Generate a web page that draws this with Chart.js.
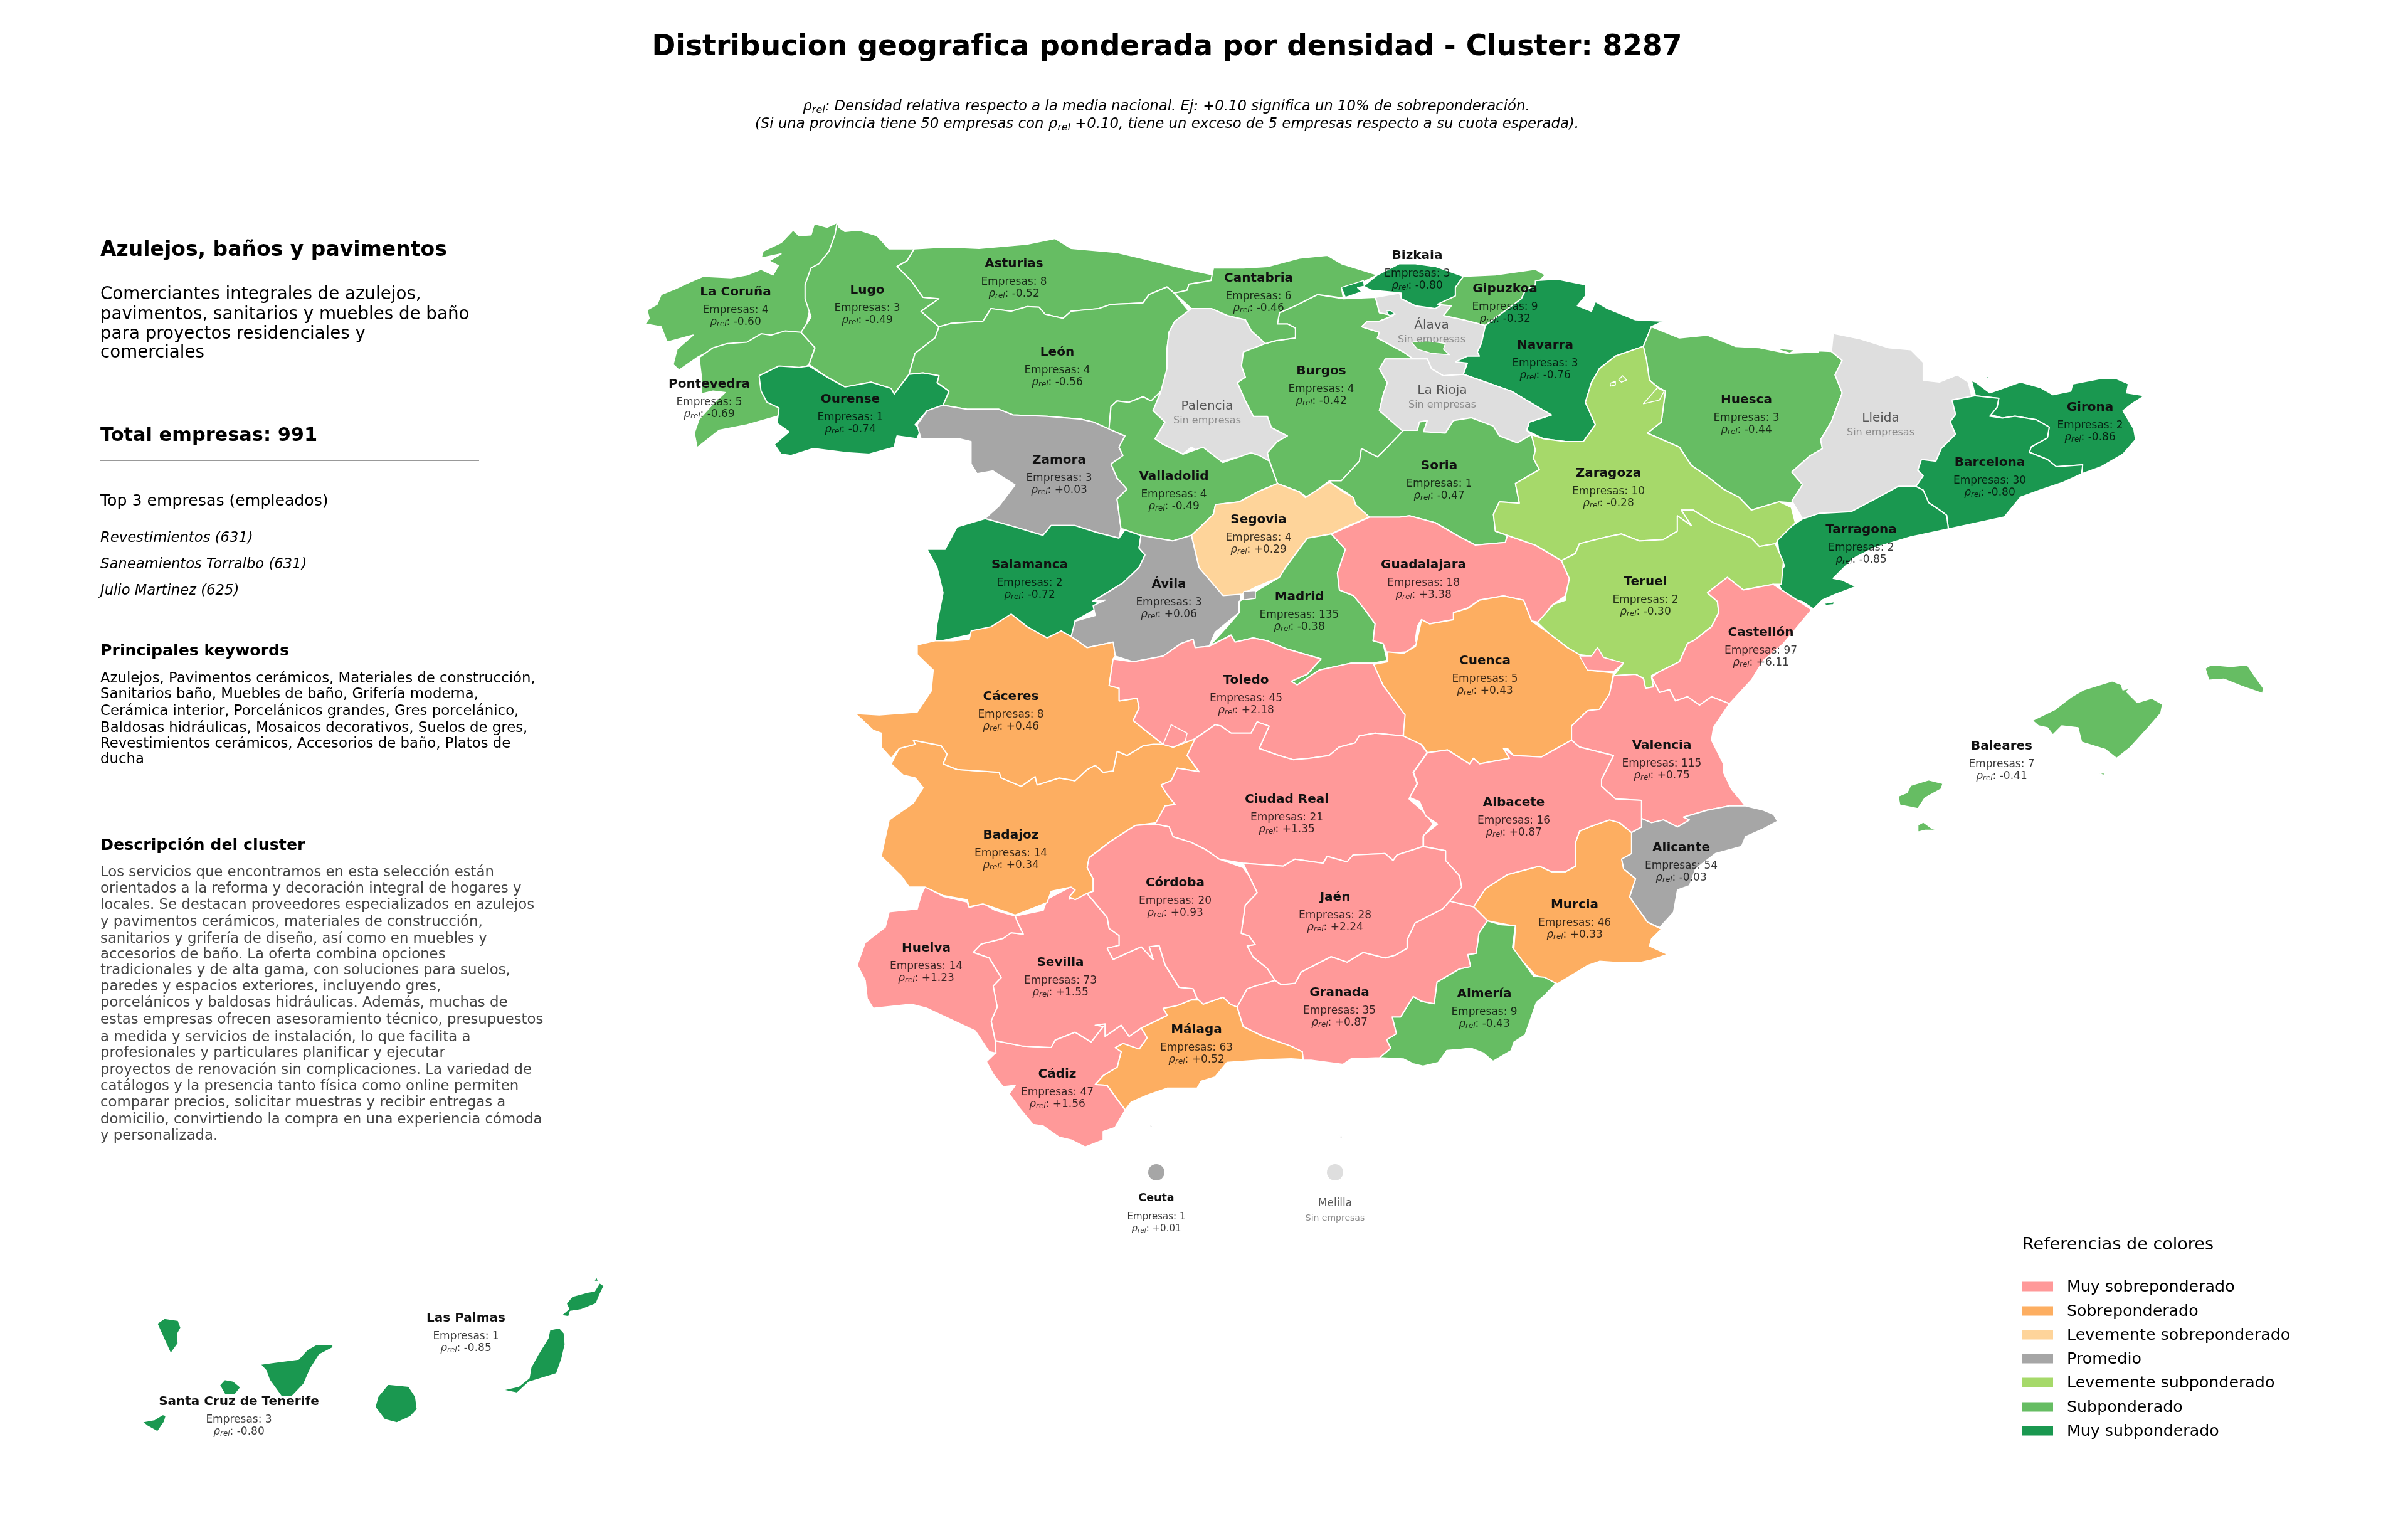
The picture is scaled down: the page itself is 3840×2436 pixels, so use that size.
<!DOCTYPE html>
<html lang="es">
<head>
<meta charset="utf-8">
<title>Distribucion geografica ponderada por densidad</title>
<script src="https://cdn.jsdelivr.net/npm/chart.js@4"></script>
<style>
html, body { margin: 0; padding: 0; background: #fff; }
body { width: 3840px; height: 2436px; position: relative; overflow: hidden; font-family: "DejaVu Sans", sans-serif; color: #000; }
canvas { position: absolute; left: 0; top: 0; }
#labels { position: absolute; left: 0; top: 0; width: 3840px; height: 2436px; }
#labels div { position: absolute; white-space: nowrap; line-height: 1; }
sub { font-size: 70%; line-height: 0; vertical-align: -0.25em; }
</style>
</head>
<body>
<canvas id="map" width="3840" height="2436"></canvas>
<div id="labels"></div>
<script>
function fromCrop(ox, oy, kx, ky) {
    return flat => {
        const pts = [];
        for (let i = 0; i < flat.length; i += 2) {
            pts.push({ x: ox + flat[i] / kx, y: oy + flat[i + 1] / ky });
        }
        return pts;
    };
}
const z1 = fromCrop(1000, 320, 1.568, 2.24);
const z2 = fromCrop(1900, 320, 1.568, 2.24);
const z3 = fromCrop(2800, 500, 1.742, 1.742);
const z4 = fromCrop(1300, 950, 1.568, 2.24);
const z5 = fromCrop(2200, 950, 1.568, 2.24);
const z6 = fromCrop(1300, 1400, 1.568, 2.24);
const z7 = fromCrop(2200, 1250, 2.24, 2.613);
const z8 = fromCrop(180, 2000, 1.823, 3);

const coruna = z1([525,78, 500,95, 468,82, 460,122, 430,125, 415,105, 385,150, 340,180, 335,205, 385,190, 355,215, 378,232, 365,265, 335,245, 300,265, 260,275, 190,270, 150,295, 120,315, 85,335, 75,370, 50,390, 55,420, 45,440, 85,450, 100,505, 165,480, 125,530, 115,585, 130,605, 175,560, 215,530, 300,530, 440,500, 470,300, 530,100]);
const pontevedra = z1([215,525, 250,510, 300,505, 335,475, 360,480, 395,465, 435,470, 470,525, 455,585, 400,640, 390,760, 375,770, 300,800, 230,820, 175,882, 168,830, 180,780, 215,725, 245,685, 215,680, 185,690, 185,620, 180,560]);
const lugo = z1([525,78, 520,120, 505,180, 480,225, 460,240, 445,300, 445,350, 460,415, 435,470, 470,525, 455,585, 500,630, 545,665, 610,648, 660,670, 668,690, 705,620, 720,545, 770,490, 780,450, 735,395, 780,350, 740,345, 710,285, 675,235, 700,215, 718,172, 655,172, 625,125, 580,105, 545,110, 530,95]);
const asturias = z1([718,172, 800,165, 880,170, 1000,155, 1070,135, 1110,170, 1225,185, 1300,210, 1400,245, 1465,265, 1460,285, 1440,290, 1405,298, 1400,320, 1368,330, 1350,308, 1305,335, 1290,365, 1210,370, 1180,385, 1110,395, 1090,420, 1045,405, 1030,380, 1000,378, 960,395, 910,385, 890,430, 810,438, 780,450, 735,395, 780,350, 740,345, 710,285, 675,235, 700,215]);
const leon = z1([780,450, 810,438, 890,430, 910,385, 960,395, 1000,378, 1030,380, 1045,405, 1090,420, 1110,395, 1180,385, 1210,370, 1290,365, 1305,335, 1350,308, 1368,330, 1405,395, 1370,430, 1355,470, 1350,530, 1350,600, 1340,680, 1310,715, 1290,700, 1255,720, 1225,715, 1210,735, 1205,815, 1165,790, 1135,780, 1050,770, 965,765, 930,745, 850,745, 790,730, 805,680, 775,650, 780,625, 740,615, 705,620, 720,545, 770,490]);
const ourense = z1([330,625, 380,590, 430,595, 455,590, 500,630, 545,665, 610,648, 660,670, 668,690, 705,620, 740,615, 780,625, 775,650, 805,680, 790,730, 750,750, 720,800, 735,815, 725,850, 675,840, 668,880, 605,905, 550,900, 465,885, 410,910, 385,905, 368,870, 405,825, 375,795, 380,740, 350,720, 335,680]);
const zamora = z1([790,730, 850,745, 930,745, 965,765, 1050,770, 1135,780, 1165,790, 1205,815, 1245,840, 1230,880, 1240,910, 1210,940, 1225,990, 1250,1030, 1225,1065, 1235,1170, 1230,1205, 1175,1185, 1120,1160, 1060,1160, 1040,1195, 970,1165, 895,1135, 930,1090, 970,1015, 915,965, 875,975, 860,940, 860,860, 830,850, 735,850, 725,800, 750,750]);
const salamanca = [...z1([895,1135, 970,1165, 1040,1195, 1060,1160, 1120,1160, 1175,1185, 1230,1205, 1245,1175, 1285,1195, 1280,1240, 1295,1265, 1280,1310, 1240,1365, 1165,1430, 1195,1440, 1120,1500]), ...z4([650,100, 640,145, 615,150, 580,160, 530,130, 480,110, 300,165]), ...z1([775,1510, 790,1400, 775,1310, 750,1245, 795,1245, 825,1165])];
const palencia = [...z2([0,385, 50,385, 90,410, 135,425, 150,465, 185,510, 130,540, 125,590, 135,630, 115,650, 135,715, 155,770, 190,770, 200,810, 240,840, 215,860, 190,900, 195,930, 170,910, 100,920, 70,935, 30,905, 0,880]), ...z1([1390,905, 1340,870, 1320,850, 1345,790, 1315,750, 1335,680, 1350,600, 1350,530, 1355,470, 1370,430])];
const burgos = z2([130,540, 185,510, 210,500, 260,490, 260,455, 240,440, 215,440, 220,400, 260,375, 315,335, 380,350, 460,345, 470,400, 505,410, 470,430, 440,430, 425,450, 470,470, 465,490, 530,540, 555,565, 485,565, 470,600, 490,650, 480,690, 470,750, 530,820, 490,880, 465,915, 425,885, 420,930, 375,1000, 345,1000, 290,1060, 270,1040, 215,1010, 195,930, 190,900, 215,860, 240,840, 200,810, 190,770, 155,770, 135,715, 115,650, 135,630, 125,590]);
const cantabria = [...z2([55,240, 130,240, 190,235, 270,205, 340,195, 375,225, 465,265, 430,290, 375,310, 380,348, 315,335, 260,375, 220,400, 215,440, 240,440, 260,455, 260,490, 210,500, 185,510, 150,465, 135,425, 90,410, 50,385, 0,385]), ...z1([1368,330, 1400,320, 1405,298, 1440,290, 1460,285])];
const alava = z2([460,345, 520,330, 525,350, 560,375, 610,385, 615,370, 650,375, 630,410, 680,425, 735,445, 725,510, 715,540, 720,555, 690,570, 680,620, 630,625, 600,600, 590,565, 555,565, 530,540, 465,490, 470,470, 425,450, 440,430, 470,430, 505,410, 470,400]);
const bizkaia = z2([465,265, 520,225, 560,225, 610,235, 680,270, 660,310, 660,340, 610,385, 560,375, 525,350, 525,330, 490,325, 450,320, 430,305]);
const gipuzkoa = z2([680,270, 760,265, 860,245, 885,265, 860,300, 835,320, 825,350, 735,445, 680,425, 630,410, 650,375, 615,370, 660,340, 660,310]);
const navarra = z2([860,285, 915,280, 985,300, 985,340, 965,375, 1000,395, 1010,360, 1040,385, 1110,425, 1180,430, 1150,450, 1130,520, 1060,555, 1020,600, 1000,650, 985,720, 1010,800, 980,860, 935,860, 880,850, 838,820, 845,790, 900,765, 870,740, 800,680, 760,660, 680,620, 690,580, 660,575, 690,555, 720,555, 715,540, 725,510, 735,445, 825,350, 835,320, 860,300]);
const rioja = z2([485,565, 555,565, 590,565, 600,600, 630,625, 680,620, 760,660, 800,680, 870,740, 900,765, 845,790, 838,820, 850,835, 815,865, 770,840, 755,805, 700,775, 655,785, 635,830, 580,825, 590,785, 570,790, 565,820, 530,825, 470,750, 480,690, 490,650, 470,600]);
const soria = z2([345,1000, 375,1000, 420,930, 425,885, 465,915, 490,880, 530,820, 565,820, 570,790, 590,785, 580,825, 635,830, 655,785, 700,775, 755,805, 770,840, 815,865, 850,835, 860,890, 855,920, 870,960, 810,1010, 820,1080, 770,1075, 755,1120, 760,1180, 790,1195, 785,1220, 710,1230, 670,1200, 610,1150, 545,1125, 520,1130, 445,1130, 410,1085, 405,1060, 385,1040, 350,1010]);
const valladolid = [...z1([1205,815, 1210,735, 1225,715, 1255,720, 1290,700, 1310,715, 1335,680, 1315,750, 1345,790, 1320,850, 1340,870, 1390,905, 1440,880, 1490,935, 1560,900]), ...z2([170,910, 195,930, 215,1010, 165,1040, 120,1075, 60,1085, 55,1120, 0,1195]), ...z1([1365,1215, 1285,1195, 1245,1175, 1235,1170, 1225,1065, 1250,1030, 1225,990, 1210,940, 1240,910, 1230,880, 1245,840])];
const segovia = z2([215,1010, 270,1040, 285,1060, 345,1005, 380,1040, 405,1060, 410,1085, 445,1130, 385,1165, 350,1190, 290,1205, 235,1310, 220,1345, 160,1380, 120,1410, 80,1410, 45,1370, 19,1310, 0,1195, 55,1120, 60,1085, 120,1075, 165,1040]);
const avila = [...z1([1285,1195, 1365,1215, 1411,1195, 1430,1310, 1490,1410, 1535,1405, 1530,1470]), ...z4([1060,60, 1000,130, 985,180, 950,185, 945,155, 915,170, 870,215, 795,235, 750,215, 745,165, 680,185, 640,145, 650,90, 700,70, 695,35, 725,15]), ...z1([1165,1430, 1240,1365, 1280,1310, 1295,1265, 1280,1240])];
const madrid = [...z2([350,1190, 385,1245, 365,1330, 370,1390, 405,1410, 430,1450]), ...z4([1375,50, 1400,100, 1395,160, 1420,170, 1430,230, 1395,240, 1340,240, 1260,265, 1205,318, 1190,305, 1230,280, 1265,225, 1180,190, 1130,160, 1095,150, 1050,165, 1040,140, 985,180, 1030,110, 1060,60, 1060,20]), ...z2([160,1395, 220,1345, 235,1310, 290,1205])];
const guadalajara = [...z2([350,1190, 445,1130, 520,1130, 545,1125, 610,1150, 670,1200, 710,1230, 785,1220, 790,1195, 860,1230, 925,1285, 945,1350, 935,1411, 900,1446, 870,1506, 850,1501, 830,1426, 780,1411, 720,1426, 690,1455, 655,1471, 655,1496, 595,1511, 575,1496, 565,1520, 560,1568]), ...z4([1505,170, 1480,200, 1430,205, 1420,170, 1395,160, 1400,100, 1375,50]), ...z2([405,1410, 370,1390, 365,1330, 385,1245])];
const huesca = [...z2([1130,520, 1150,450, 1220,490, 1290,480, 1360,520, 1420,525, 1490,545, 1568,540]), ...z3([45,95, 95,110, 110,100, 210,105, 240,130, 220,170, 240,220, 210,300, 180,350, 185,375, 150,395, 100,440, 130,475, 100,525]), ...z2([1470,1075, 1400,1105, 1370,1060, 1330,1030, 1290,985, 1250,945, 1220,880, 1140,830, 1175,790, 1185,680, 1165,665, 1145,640, 1138,570])];
const zaragoza = z2([1130,520, 1060,555, 1020,600, 1000,650, 985,720, 1010,800, 980,860, 935,860, 880,850, 850,835, 860,890, 855,920, 870,960, 810,1010, 820,1080, 770,1075, 755,1120, 760,1180, 790,1195, 860,1230, 925,1285, 960,1260, 970,1225, 1040,1200, 1075,1190, 1120,1215, 1180,1210, 1215,1180, 1215,1125, 1250,1160, 1225,1105, 1255,1105, 1305,1150, 1400,1205, 1420,1235, 1460,1225, 1510,1150, 1500,1095, 1470,1075, 1400,1105, 1370,1060, 1330,1030, 1290,985, 1250,945, 1220,880, 1140,830, 1175,790, 1185,680, 1165,665, 1145,640, 1138,570]);
const lleida = z3([215,55, 290,70, 370,95, 430,100, 465,135, 465,185, 510,190, 560,170, 590,190, 600,230, 545,240, 555,280, 540,300, 555,335, 515,375, 500,410, 460,405, 450,435, 465,450, 445,480, 395,480, 340,510, 265,550, 175,555, 130,570, 100,520, 130,475, 100,440, 150,395, 185,375, 180,350, 210,300, 240,220, 220,170, 240,130, 210,105]);
const girona = z3([563,172, 610,190, 650,220, 735,190, 790,205, 825,225, 875,215, 880,195, 960,180, 1000,180, 1035,195, 1030,220, 1080,228, 1045,250, 1020,270, 1050,320, 1055,350, 1020,390, 960,425, 905,445, 908,420, 835,425, 810,405, 760,385, 765,370, 810,345, 815,315, 780,295, 720,285, 685,290, 650,280, 670,260, 675,235, 610,228, 600,190]);
const barcelona = z3([545,240, 610,228, 675,235, 670,260, 650,285, 685,290, 720,285, 780,295, 815,315, 810,345, 765,370, 760,385, 810,405, 835,425, 908,420, 905,445, 850,470, 790,490, 735,510, 690,565, 535,598, 530,560, 510,545, 480,525, 465,490, 445,480, 465,450, 450,435, 460,405, 500,410, 515,375, 555,335, 540,300, 555,280]);
const tarragona = z3([445,480, 465,490, 480,525, 510,545, 530,560, 535,598, 430,620, 330,650, 270,680, 215,735, 240,740, 278,758, 220,780, 185,795, 160,820, 130,800, 80,785, 65,755, 50,745, 80,700, 65,670, 60,630, 100,590, 130,570, 175,555, 265,550, 340,510, 395,480]);
const teruel = [...z2([925,1285, 960,1260, 970,1225, 1040,1200, 1075,1190, 1120,1215, 1180,1210, 1215,1180, 1215,1125, 1250,1160, 1225,1105, 1255,1105, 1305,1150, 1400,1205, 1420,1235, 1460,1225, 1480,1290, 1475,1370, 1455,1370, 1380,1390, 1340,1345, 1290,1400, 1315,1430]), ...z5([848,60, 830,110, 785,160, 770,170, 750,235, 700,270, 680,285, 685,325, 665,330, 660,295, 640,280, 585,285, 610,240, 560,220, 545,185, 530,215, 500,210, 470,185, 420,130, 395,95, 435,30, 465,15, 465,0]), ...z2([945,1350])];
const castellon = [...z2([1290,1400, 1340,1345, 1380,1390, 1455,1370, 1540,1450]), ...z5([1080,50, 1045,110, 1010,170, 960,230, 930,300, 875,385, 830,360, 800,390, 770,360, 740,375, 725,335, 700,345, 680,290, 700,270, 750,235, 770,170, 785,160, 830,110, 848,60, 845,20])];
const cuenca = z5([105,85, 125,100, 185,85, 185,60, 220,45, 250,15, 310,0, 360,15, 380,90, 420,130, 470,185, 500,210, 520,265, 585,275, 575,350, 550,405, 520,410, 480,465, 480,515, 405,575, 335,570, 320,545, 310,545, 325,580, 250,600, 235,580, 225,600, 170,550, 120,560, 105,530, 75,545, 60,510, 60,425, 9,320, -16,245, 20,235, 20,200, 60,205, 90,180]);
const valencia = z5([585,285, 640,280, 660,295, 665,330, 685,325, 680,290, 700,345, 725,335, 740,375, 770,360, 800,390, 830,360, 875,385, 835,470, 830,515, 860,600, 860,630, 880,690, 915,750, 875,750, 820,765, 760,790, 775,800, 745,825, 710,800, 680,810, 655,795, 655,730, 590,725, 555,680, 555,655, 585,570, 500,540, 480,515, 480,465, 520,410, 550,405, 575,350]);
const alicante = z5([655,795, 680,810, 710,800, 745,825, 775,800, 760,790, 820,765, 875,750, 915,750, 960,765, 985,780, 995,805, 955,835, 915,860, 905,895, 840,920, 790,975, 775,1035, 745,1050, 735,1130, 700,1185, 670,1165, 625,1075, 640,1010, 610,975, 605,940, 630,920, 630,845, 655,825]);
const murcia = z5([630,845, 630,920, 605,940, 610,975, 640,1010, 625,1075, 670,1165, 705,1190, 680,1225, 675,1250, 720,1280, 680,1300, 650,1310, 600,1310, 550,1305, 520,1320, 445,1385, 390,1355, 335,1270, 340,1180, 270,1160, 235,1110, 265,1045, 320,995, 400,965, 430,985, 465,985, 490,965, 490,880, 500,840, 525,825, 575,800, 600,810]);
const almeria = z7([385,570, 430,585, 485,590, 475,680, 550,800, 590,805, 630,830, 590,880, 560,910, 520,1045, 480,1075, 470,1110, 405,1155, 370,1120, 325,1100, 290,1105, 240,1110, 210,1160, 155,1175, 120,1165, 85,1145, 0,1140, 40,1100, 25,1065, 60,1040, 45,970, 75,970, 120,885, 150,905, 195,915, 205,825, 285,770, 325,760, 315,710, 345,705, 355,620]);
const granada = [...z6([1055,460, 1080,395, 1100,385, 1150,365, 1165,380, 1200,375, 1215,335, 1290,280, 1330,300, 1370,265, 1425,285, 1450,275, 1480,250, 1480,220, 1500,160, 1568,110]), ...z5([175,1090, 235,1110, 270,1160]), ...z7([385,570, 355,620, 345,705, 315,710, 325,760, 285,770, 205,825, 195,915, 150,905, 120,885, 75,970, 45,970, 60,1040, 25,1065, 40,1100, 0,1140]), ...z6([1340,645, 1320,665, 1240,650, 1220,650, 1218,620, 1190,600, 1120,565, 1070,530])];
const malaga = z6([1055,460, 1070,530, 1120,565, 1190,600, 1218,620, 1220,648, 1190,645, 1130,648, 1030,658, 1000,710, 965,725, 955,750, 880,750, 830,775, 790,800, 775,828, 755,790, 730,740, 700,737, 720,705, 755,675, 765,620, 750,605, 770,590, 810,610, 830,570, 815,535, 880,490, 870,465, 905,455, 940,435, 970,435, 970,450, 1020,425, 1038,450]);
const cadiz = z6([450,580, 520,600, 590,605, 600,578, 650,550, 690,585, 720,530, 700,525, 725,520, 725,565, 765,525, 785,565, 815,535, 830,570, 810,610, 770,590, 750,605, 765,620, 755,675, 720,705, 700,737, 730,740, 755,790, 775,828, 750,890, 720,905, 720,935, 675,960, 640,935, 610,925, 570,885, 545,880, 510,820, 485,770, 500,740, 470,745, 445,700, 428,655, 450,625]);
const sevilla = z6([500,135, 570,115, 580,75, 640,30, 650,45, 635,75, 680,55, 730,140, 735,180, 760,205, 760,240, 730,250, 745,290, 815,245, 845,290, 835,245, 860,240, 875,310, 910,390, 945,395, 955,430, 940,435, 905,455, 870,465, 880,490, 815,535, 785,565, 765,525, 725,565, 725,520, 700,525, 720,530, 690,585, 650,550, 600,578, 590,605, 520,600, 450,580, 440,510, 455,460, 445,385, 465,355, 435,285, 395,265, 415,235, 470,215, 490,195, 520,200, 505,155]);
const huelva = z6([275,30, 320,65, 380,85, 385,105, 420,90, 450,115, 500,135, 505,155, 520,200, 490,195, 470,215, 415,235, 395,265, 435,285, 465,355, 445,385, 455,460, 440,510, 450,580, 452,625, 435,620, 400,545, 280,465, 240,450, 145,465, 130,430, 125,365, 105,310, 125,230, 175,175, 185,120, 255,110, 265,60]);
const badajoz = z4([870,530, 895,540, 950,510, 930,570, 960,628, 905,615, 890,660, 865,675, 880,710, 900,745, 875,750, 855,810, 800,820, 740,875, 685,935, 680,970, 695,1010, 695,1055, 680,1062, 650,1085, 635,1075, 650,1050, 640,1040, 590,1055, 580,1095, 500,1140, 450,1115, 420,1100, 385,1110, 380,1085, 320,1070, 275,1040, 235,1040, 215,1000, 165,930, 185,800, 245,740, 270,685, 250,650, 220,640, 190,600, 210,545, 250,530, 245,515, 315,535, 330,565, 320,600, 355,620, 460,630, 465,650, 515,680, 550,645, 555,675, 610,650, 650,660, 680,620, 700,605, 720,630, 745,625, 755,555, 780,570, 820,535, 845,530]);
const caceres = z4([300,160, 345,160, 385,155, 390,125, 440,110, 490,65, 530,110, 580,150, 615,125, 640,145, 680,185, 745,165, 750,215, 745,225, 735,320, 760,330, 760,375, 805,365, 810,400, 795,445, 870,530, 845,530, 820,535, 780,570, 755,555, 745,625, 720,630, 700,605, 680,620, 650,660, 610,650, 555,675, 550,645, 515,680, 465,650, 460,630, 355,620, 320,600, 330,565, 315,535, 245,515, 250,530, 210,545, 190,580, 165,540, 165,490, 145,480, 100,420, 160,425, 255,415, 290,340, 295,265, 255,210, 255,175]);
const toledo = z4([745,225, 795,235, 870,215, 915,170, 945,155, 950,185, 985,180, 1040,140, 1050,165, 1095,150, 1130,160, 1180,190, 1265,225, 1230,280, 1190,305, 1205,318, 1260,265, 1340,240, 1395,240, 1420,320, 1475,425, 1470,500, 1400,490, 1360,500, 1350,525, 1310,540, 1285,570, 1235,580, 1195,585, 1160,570, 1110,545, 1135,465, 1105,450, 1090,490, 1040,490, 1015,465, 1000,460, 950,510, 895,540, 870,530, 795,445, 810,400, 805,365, 760,375, 760,330, 735,320]);
const ciudadReal = z4([950,510, 1000,460, 1015,465, 1040,490, 1090,490, 1105,450, 1135,465, 1110,545, 1160,570, 1195,585, 1235,580, 1285,570, 1310,540, 1350,525, 1360,500, 1400,490, 1470,500, 1515,530, 1530,560, 1495,630, 1505,670, 1485,725, 1525,775, 1545,815, 1520,860, 1520,895, 1455,925, 1445,945, 1425,920, 1345,925, 1330,950, 1280,930, 1270,955, 1200,940, 1170,965, 1070,955, 1010,940, 975,905, 940,880, 895,860, 885,825, 850,815, 875,750, 900,745, 880,710, 865,675, 890,660, 905,615, 960,628, 930,570]);
const albacete = z5([120,560, 170,550, 225,600, 235,580, 250,600, 325,580, 310,545, 335,570, 405,575, 480,515, 500,540, 585,570, 555,655, 555,680, 590,725, 655,730, 655,795, 655,825, 630,845, 600,810, 575,800, 525,825, 500,840, 490,880, 490,965, 465,985, 430,985, 400,965, 320,995, 265,1045, 235,1110, 175,1090, 205,1040, 200,1000, 165,945, 165,910, 110,895, 110,855, 145,815, 115,785, 100,735, 75,720, 95,670, 85,630]);
const jaen = [...z4([1070,955, 1170,965, 1200,940, 1270,955, 1280,930, 1330,950, 1345,925, 1425,920, 1445,945, 1455,925, 1520,895]), ...z5([165,910, 165,945, 200,1000, 205,1040, 175,1090, 157,1118]), ...z4([1500,1168, 1480,1228, 1480,1258, 1450,1283, 1425,1293, 1370,1273, 1330,1308, 1290,1288, 1215,1343, 1200,1383, 1165,1388, 1150,1373, 1130,1330, 1095,1290, 1080,1250, 1100,1245, 1085,1215, 1065,1205, 1075,1105, 1105,1060, 1085,1000])];
const cordoba = z4([850,815, 885,825, 895,860, 940,880, 975,905, 1010,940, 1070,970, 1085,1000, 1105,1060, 1075,1105, 1065,1205, 1085,1215, 1100,1245, 1080,1250, 1095,1290, 1130,1330, 1150,1373, 1100,1393, 1080,1403, 1055,1468, 1038,1458, 1020,1433, 970,1458, 955,1438, 945,1403, 910,1398, 875,1318, 860,1248, 835,1253, 845,1298, 815,1253, 745,1298, 730,1258, 760,1248, 760,1213, 735,1188, 730,1148, 680,1063, 695,1055, 695,1010, 680,970, 685,935, 740,875, 800,820]);
const mallorca = z3([768,1130, 830,1100, 875,1065, 910,1045, 990,1020, 1015,1030, 1020,1045, 1040,1040, 1030,1050, 1060,1080, 1100,1068, 1130,1085, 1125,1110, 1090,1150, 1040,1205, 1002,1235, 970,1210, 905,1190, 895,1150, 850,1145, 825,1170, 810,1150, 785,1145]);
const menorca = z3([1248,985, 1265,975, 1320,980, 1365,975, 1385,1005, 1410,1040, 1408,1055, 1350,1035, 1300,1015, 1258,1018]);
const ibiza = z3([395,1340, 420,1330, 430,1310, 480,1295, 520,1305, 515,1320, 470,1345, 450,1375, 400,1365]);
const formentera = z3([450,1420, 465,1412, 490,1430, 510,1435, 470,1435, 450,1440]);
const cabrera = z3([955,1278, 968,1274, 968,1283]);
const laPalma = z8([128,330, 150,305, 190,315, 198,350, 188,380, 190,425, 168,475, 150,410]);
const laGomera = z8([310,625, 325,598, 350,605, 372,635, 355,670, 325,668]);
const tenerife = z8([428,525, 470,515, 540,500, 565,455, 590,432, 640,428, 640,445, 600,480, 575,545, 555,620, 520,680, 490,680, 455,600, 445,555]);
const elHierro = z8([85,800, 120,790, 145,765, 155,770, 150,800, 130,848, 100,820]);
const granCanaria = z8([800,620, 860,630, 880,680, 885,740, 865,775, 825,805, 790,790, 762,730, 770,680]);
const fuerteventura = z8([1270,360, 1298,350, 1312,375, 1315,430, 1305,500, 1290,570, 1210,610, 1175,663, 1132,648, 1180,630, 1210,590, 1215,540, 1235,480, 1265,400]);
const lanzarote = z8([1415,135, 1428,150, 1415,195, 1405,235, 1360,265, 1330,272, 1325,298, 1303,292, 1325,260, 1318,235, 1335,200, 1380,180, 1400,175]);
const graciosa = z8([1398,128, 1406,105, 1412,128]);
const alegranza = z8([1399,46, 1408,46, 1408,54, 1399,54]);
const ceutaShape = z6([832,878, 845,885, 838,888]);
const melillaShape = z6([1312,920, 1318,920, 1318,932, 1312,932]);

// bits of a province that sit inside a neighbour
const trevino = z2([550,505, 590,500, 635,510, 630,530, 645,550, 600,545, 565,530]);
const ademuz = z5([500,215, 530,215, 545,185, 560,220, 610,240, 585,270, 520,265]);
const trucios = z2([375,310, 430,285, 432,305, 415,310, 425,325, 385,345]);
const toledoIsland = z4([870,530, 890,460, 930,490, 925,520, 895,540]);
const zaragozaIsletA = z2([1068,640, 1078,625, 1088,640, 1075,648]);
const zaragozaIsletB = z2([1047,652, 1060,645, 1060,658, 1048,662]);
const zaragozaStrip = z2([1165,668, 1182,680, 1170,712, 1130,725]);
const ebroIslet = z3([190,805, 220,800, 215,808, 195,810]);
const medesIslet = z3([640,178, 648,172, 647,182]);
const bizkaiaSpot = z2([487,395, 497,392, 510,405, 495,410]);
const avilaBlock = z2([130,1395, 160,1392, 160,1420, 130,1425]);

const provinceNames = ['La Coruña', 'Pontevedra', 'Lugo', 'Asturias', 'León', 'Ourense', 'Zamora', 'Salamanca', 'Palencia', 'Burgos', 'Cantabria', 'Álava', 'Bizkaia', 'Gipuzkoa', 'Navarra', 'La Rioja', 'Soria', 'Valladolid', 'Segovia', 'Ávila', 'Madrid', 'Guadalajara', 'Huesca', 'Zaragoza', 'Lleida', 'Girona', 'Barcelona', 'Tarragona', 'Teruel', 'Castellón', 'Cuenca', 'Valencia', 'Alicante', 'Murcia', 'Almería', 'Granada', 'Málaga', 'Cádiz', 'Sevilla', 'Huelva', 'Badajoz', 'Cáceres', 'Toledo', 'Ciudad Real', 'Albacete', 'Jaén', 'Córdoba', 'Baleares', 'Santa Cruz de Tenerife', 'Las Palmas', 'Ceuta', 'Melilla'];
const provinceShapes = [[coruna], [pontevedra], [lugo], [asturias], [leon], [ourense], [zamora], [salamanca], [palencia], [burgos], [cantabria], [alava], [bizkaia], [gipuzkoa], [navarra], [rioja], [soria], [valladolid], [segovia], [avila], [madrid], [guadalajara], [huesca], [zaragoza], [lleida], [girona], [barcelona], [tarragona], [teruel], [castellon], [cuenca], [valencia], [alicante], [murcia], [almeria], [granada], [malaga], [cadiz], [sevilla], [huelva], [badajoz], [caceres], [toledo], [ciudadReal], [albacete], [jaen], [cordoba], [mallorca, menorca, ibiza, formentera, cabrera], [laPalma, laGomera, tenerife, elHierro], [granCanaria, fuerteventura, lanzarote, graciosa, alegranza], [ceutaShape], [melillaShape]];
const companyCounts = [4, 5, 3, 8, 4, 1, 3, 2, null, 4, 6, null, 3, 9, 3, null, 1, 4, 4, 3, 135, 18, 3, 10, null, 2, 30, 2, 2, 97, 5, 115, 54, 46, 9, 35, 63, 47, 73, 14, 14, 8, 45, 21, 16, 28, 20, 7, 3, 1, 1, null];
const relDensity = [-0.60, -0.69, -0.49, -0.52, -0.56, -0.74, 0.03, -0.72, null, -0.42, -0.46, null, -0.80, -0.32, -0.76, null, -0.47, -0.49, 0.29, 0.06, -0.38, 3.38, -0.44, -0.28, null, -0.86, -0.80, -0.85, -0.30, 6.11, 0.43, 0.75, -0.03, 0.33, -0.43, 0.87, 0.52, 1.56, 1.55, 1.23, 0.34, 0.46, 2.18, 1.35, 0.87, 2.24, 0.93, -0.41, -0.80, -0.85, 0.01, null];
const labelX = [1173, 1131, 1383, 1617, 1686, 1356, 1689, 1642, 1925, 2107, 2007, 2283, 2260, 2400, 2464, 2300, 2295, 1872, 2007, 1864, 2072, 2270, 2785, 2565, 2999, 3333, 3173, 2968, 2624, 2808, 2368, 2650, 2681, 2511, 2367, 2136, 1908, 1686, 1691, 1477, 1612, 1612, 1987, 2052, 2414, 2129, 1874, 3192, 381, 743, 1844, 2129];
const labelY = [464, 611, 461, 419, 560, 635, 732, 899, 646, 590, 442, 517, 406, 459, 549, 621, 741, 758, 827, 930, 950, 899, 636, 753, 665, 648, 736, 843, 926, 1007, 1052, 1187, 1350, 1441, 1583, 1581, 1640, 1711, 1533, 1510, 1330, 1109, 1083, 1273, 1278, 1429, 1406, 1188, 2233, 2100, 1910, 1917];
const smallLabels = ['Ceuta', 'Melilla'];

const enclaveOwners = ['Burgos', 'Valencia', 'Bizkaia', 'Toledo', 'Zaragoza', 'Zaragoza', 'Zaragoza', 'Tarragona', 'Girona', 'Bizkaia', 'Ávila'];
const enclaveShapes = [trevino, ademuz, trucios, toledoIsland, zaragozaIsletA, zaragozaIsletB, zaragozaStrip, ebroIslet, medesIslet, bizkaiaSpot, avilaBlock];

const dotNames = ['Ceuta', 'Melilla'];
const dotPositions = [{ x: 1844, y: 1869 }, { x: 2129, y: 1869 }];

const categoryNames = ['Muy sobreponderado', 'Sobreponderado', 'Levemente sobreponderado', 'Promedio', 'Levemente subponderado', 'Subponderado', 'Muy subponderado'];
const categoryColors = ['#ff9999', '#fdae61', '#fed49a', '#a6a6a6', '#a6d96a', '#66bd63', '#1a9850'];
const noDataColor = '#dedede';

const panelHeadline = 'Azulejos, baños y pavimentos';
const panelSubtitle = ['Comerciantes integrales de azulejos,', 'pavimentos, sanitarios y muebles de baño', 'para proyectos residenciales y', 'comerciales'];
const panelSubtitleY = [468, 500, 531, 561];
const topCompanies = ['Revestimientos (631)', 'Saneamientos Torralbo (631)', 'Julio Martinez (625)'];
const topCompaniesY = [856, 898, 940];
const keywordLines = ['Azulejos, Pavimentos cerámicos, Materiales de construcción,', 'Sanitarios baño, Muebles de baño, Grifería moderna,', 'Cerámica interior, Porcelánicos grandes, Gres porcelánico,', 'Baldosas hidráulicas, Mosaicos decorativos, Suelos de gres,', 'Revestimientos cerámicos, Accesorios de baño, Platos de', 'ducha'];
const keywordLinesY = [1080, 1105, 1132, 1159, 1184, 1209];
const descriptionLines = ['Los servicios que encontramos en esta selección están', 'orientados a la reforma y decoración integral de hogares y', 'locales. Se destacan proveedores especializados en azulejos', 'y pavimentos cerámicos, materiales de construcción,', 'sanitarios y grifería de diseño, así como en muebles y', 'accesorios de baño. La oferta combina opciones', 'tradicionales y de alta gama, con soluciones para suelos,', 'paredes y espacios exteriores, incluyendo gres,', 'porcelánicos y baldosas hidráulicas. Además, muchas de', 'estas empresas ofrecen asesoramiento técnico, presupuestos', 'a medida y servicios de instalación, lo que facilita a', 'profesionales y particulares planificar y ejecutar', 'proyectos de renovación sin complicaciones. La variedad de', 'catálogos y la presencia tanto física como online permiten', 'comparar precios, solicitar muestras y recibir entregas a', 'domicilio, convirtiendo la compra en una experiencia cómoda', 'y personalizada.'];
const descriptionLinesY = [1389, 1415, 1441, 1468, 1495, 1520, 1545, 1571, 1597, 1624, 1652, 1677, 1704, 1730, 1756, 1783, 1809];
const legendRowsY = [2051, 2090, 2128, 2166, 2204, 2243, 2281];

function categoryColor(rel) {
    if (rel === null) return noDataColor;
    if (rel > 0.7) return categoryColors[0];
    if (rel >= 0.3) return categoryColors[1];
    if (rel > 0.1) return categoryColors[2];
    if (rel >= -0.1) return categoryColors[3];
    if (rel >= -0.3) return categoryColors[4];
    if (rel >= -0.7) return categoryColors[5];
    return categoryColors[6];
}

function shapeDataset(label, shape, color, border) {
    return {
        label,
        data: [...shape, shape[0]],
        showLine: true,
        fill: 'shape',
        backgroundColor: color,
        borderColor: '#ffffff',
        borderWidth: border,
        borderJoinStyle: 'round',
        pointRadius: 0,
        tension: 0
    };
}

function buildDatasets() {
    const datasets = [];
    provinceNames.forEach((name, i) => {
        provinceShapes[i].forEach(shape => {
            datasets.push(shapeDataset(name, shape, categoryColor(relDensity[i]), 2));
        });
    });
    enclaveShapes.forEach((shape, i) => {
        const rel = relDensity[provinceNames.indexOf(enclaveOwners[i])];
        datasets.push(shapeDataset(enclaveOwners[i], shape, categoryColor(rel), 1.5));
    });
    dotNames.forEach((name, i) => {
        const color = categoryColor(relDensity[provinceNames.indexOf(name)]);
        datasets.push({
            label: name,
            data: [dotPositions[i]],
            showLine: false,
            pointRadius: 13,
            pointBackgroundColor: color,
            pointBorderColor: color,
            pointBorderWidth: 0
        });
    });
    // chart.js paints dataset 0 last, the list above is bottom to top
    return datasets.reverse();
}

const chart = new Chart(document.getElementById('map').getContext('2d'), {
    type: 'scatter',
    data: { datasets: buildDatasets() },
    options: {
        responsive: false,
        animation: false,
        devicePixelRatio: 1,
        // no inset for the big dots, x and y have to span the whole page
        layout: { padding: 0, autoPadding: false },
        plugins: { legend: { display: false }, tooltip: { enabled: false } },
        scales: {
            x: { type: 'linear', min: 0, max: 3840, display: false },
            y: { type: 'linear', min: 0, max: 2436, reverse: true, display: false }
        }
    }
});

const labels = document.getElementById('labels');

function addText(x, y, html, css, centered) {
    const el = document.createElement('div');
    el.innerHTML = html;
    el.style.cssText = css;
    el.style.left = x + 'px';
    el.style.top = y + 'px';
    el.style.transform = centered ? 'translate(-50%, -50%)' : 'translateY(-50%)';
    labels.appendChild(el);
    return el;
}

function rho() {
    return '<i>ρ<sub>rel</sub></i>';
}

function formatRel(v) {
    return (v >= 0 ? '+' : '') + v.toFixed(2);
}

function drawProvinceLabels() {
    provinceNames.forEach((name, i) => {
        const x = chart.scales.x.getPixelForValue(labelX[i]);
        const y = chart.scales.y.getPixelForValue(labelY[i]);
        const small = smallLabels.includes(name);
        if (companyCounts[i] === null) {
            addText(x, y, name, `font-size:${small ? 17 : 20}px;color:#555`, true);
            addText(x, y + 24, 'Sin empresas', `font-size:${small ? 14 : 16}px;color:#8c8c8c`, true);
            return;
        }
        addText(x, y, name, `font-size:${small ? 17.5 : 20}px;font-weight:bold;color:#111`, true);
        const size = small ? 15 : 17;
        addText(x, y + 28.5, `Empresas: ${companyCounts[i]}`, `font-size:${size}px;color:rgba(0,0,0,.78)`, true);
        addText(x, y + 47.5, `${rho()}: ${formatRel(relDensity[i])}`, `font-size:${size}px;color:rgba(0,0,0,.78)`, true);
    });
}

function drawHeader() {
    addText(1861, 73, 'Distribucion geografica ponderada por densidad - Cluster: 8287', 'font-size:45.6px;font-weight:bold', true);
    addText(1860, 168, `${rho()}<i>: Densidad relativa respecto a la media nacional. Ej: +0.10 significa un 10% de sobreponderación.</i>`, 'font-size:22.8px', true);
    addText(1861, 196, `<i>(Si una provincia tiene 50 empresas con </i>${rho()}<i> +0.10, tiene un exceso de 5 empresas respecto a su cuota esperada).</i>`, 'font-size:22.8px', true);
}

function drawPanel() {
    const left = 160;
    addText(left, 396, panelHeadline, 'font-size:33px;font-weight:bold');
    panelSubtitle.forEach((t, i) => addText(left, panelSubtitleY[i], t, 'font-size:27.7px'));
    addText(left, 693, 'Total empresas: 991', 'font-size:30.4px;font-weight:bold');
    const rule = addText(left, 733, '', 'width:604px;height:2px;background:#999');
    rule.style.transform = 'none';
    addText(left, 798, 'Top 3 empresas (empleados)', 'font-size:25.2px');
    topCompanies.forEach((t, i) => addText(left, topCompaniesY[i], `<i>${t}</i>`, 'font-size:22.7px'));
    addText(left, 1037, 'Principales keywords', 'font-size:25.2px;font-weight:bold');
    keywordLines.forEach((t, i) => addText(left, keywordLinesY[i], t, 'font-size:22.8px'));
    addText(left, 1347, 'Descripción del cluster', 'font-size:25.3px;font-weight:bold');
    descriptionLines.forEach((t, i) => addText(left, descriptionLinesY[i], t, 'font-size:22.8px;color:#444'));
}

function drawLegend() {
    addText(3225, 1982, 'Referencias de colores', 'font-size:27px');
    categoryNames.forEach((name, i) => {
        addText(3225, legendRowsY[i], '', `width:49px;height:15px;background:${categoryColors[i]}`);
        addText(3296, legendRowsY[i], name, 'font-size:25.3px');
    });
}

drawHeader();
drawPanel();
drawProvinceLabels();
drawLegend();
</script>
</body>
</html>
